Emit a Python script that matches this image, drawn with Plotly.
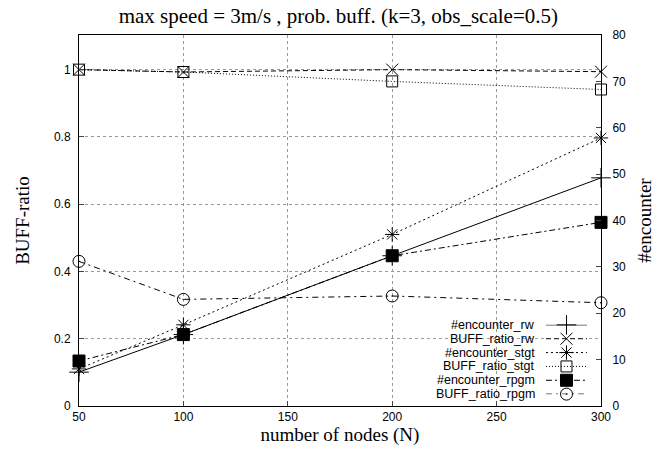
import plotly.graph_objects as go

nodes = [50, 100, 200, 300]
encounter_rw = [7.3, 15.4, 32.4, 49.2]
buff_ratio_rw = [1.0, 0.993, 1.0, 0.994]
encounter_stgt = [8.0, 17.5, 37.0, 57.8]
buff_ratio_stgt = [1.0, 0.993, 0.965, 0.941]
encounter_rpgm = [9.7, 15.4, 32.4, 39.6]
buff_ratio_rpgm = [0.43, 0.317, 0.327, 0.307]

x_ticks = [50, 100, 150, 200, 250, 300]
left_ticks = [0, 0.2, 0.4, 0.6, 0.8, 1]
right_ticks = [0, 10, 20, 30, 40, 50, 60, 70, 80]

series = [
    ("#encounter_rw", encounter_rw, "y2", "solid", "cross-thin-open", 14, "black"),
    ("BUFF_ratio_rw", buff_ratio_rw, "y", "5px,3px", "x-thin-open", 12, "black"),
    ("#encounter_stgt", encounter_stgt, "y2", "2px,3px", "asterisk-open", 12, "black"),
    ("BUFF_ratio_stgt", buff_ratio_stgt, "y", "1px,2px", "square-open", 11, "black"),
    ("#encounter_rpgm", encounter_rpgm, "y2", "6px,3px,2px,3px", "square", 12, "black"),
    ("BUFF_ratio_rpgm", buff_ratio_rpgm, "y", "6px,4px,2px,4px", "circle-open-dot", 12, "black"),
]

SANS = "Liberation Sans, Arial"
SERIF = "Liberation Serif, Times New Roman"

fig = go.Figure()
for name, vals, yax, dash, sym, size, col in series:
    fig.add_trace(go.Scatter(
        x=nodes, y=vals, yaxis=yax, mode="lines+markers", name=name,
        line=dict(color="black", width=1, dash=dash),
        marker=dict(symbol=sym, size=size, color=col, line=dict(color="black", width=1)),
        showlegend=False, cliponaxis=False,
    ))

# custom legend: text on the left (right-aligned), sample line with marker on the right
n_items = len(series)
leg_top, leg_bottom = 0.2187, 0.032
for i, (name, vals, yax, dash, sym, size, col) in enumerate(series):
    yy = -i
    fig.add_trace(go.Scatter(
        x=[0, 1], y=[yy, yy], xaxis="x3", yaxis="y3", mode="lines",
        line=dict(color="black", width=1, dash=dash),
        showlegend=False, hoverinfo="skip", cliponaxis=False,
    ))
    fig.add_trace(go.Scatter(
        x=[0.5], y=[yy], xaxis="x3", yaxis="y3", mode="markers",
        marker=dict(symbol=sym, size=size, color=col, line=dict(color="black", width=1)),
        showlegend=False, hoverinfo="skip", cliponaxis=False,
    ))
    ypaper = leg_top - i * (leg_top - leg_bottom) / (n_items - 1)
    fig.add_annotation(x=0.8774, y=ypaper, xref="paper", yref="paper", text=name,
                       showarrow=False, xanchor="right", yanchor="middle",
                       font=dict(family=SANS, size=12.5, color="black"))

fig.update_layout(
    width=670, height=452,
    margin=dict(l=79, r=69, t=35, b=42),
    paper_bgcolor="white", plot_bgcolor="white",
    title=dict(text="max speed = 3m/s , prob. buff. (k=3, obs_scale=0.5)",
               x=0.505, xanchor="center", y=0.966, yanchor="middle",
               font=dict(family=SERIF, size=21, color="black")),
    xaxis=dict(range=[50, 300], tickvals=x_ticks, ticks="inside", ticklen=5,
               showline=True, mirror=True, linecolor="black", linewidth=1,
               showgrid=True, gridcolor="#999999", griddash="dot", gridwidth=1,
               zeroline=False,
               tickfont=dict(family=SANS, size=12, color="black"),
               title=dict(text="number of nodes (N)", standoff=2,
                          font=dict(family=SERIF, size=19, color="black"))),
    yaxis=dict(range=[0, 1.103], tickvals=left_ticks, ticktext=["0", "0.2", "0.4", "0.6", "0.8", "1"],
               ticks="inside", ticklen=5, ticklabelstandoff=5,
               showline=True, linecolor="black", linewidth=1,
               showgrid=True, gridcolor="#999999", griddash="dot", gridwidth=1,
               zeroline=False,
               tickfont=dict(family=SANS, size=12, color="black"),
               title=dict(text="BUFF-ratio", standoff=19,
                          font=dict(family=SERIF, size=19, color="black"))),
    yaxis2=dict(range=[0, 80], tickvals=right_ticks, overlaying="y", side="right",
                ticks="inside", ticklen=5, ticklabelstandoff=8,
                showline=True, linecolor="black", linewidth=1,
                showgrid=False, zeroline=False,
                tickfont=dict(family=SANS, size=12, color="black"),
                title=dict(text="#encounter", standoff=12,
                           font=dict(family=SERIF, size=19, color="black"))),
    xaxis3=dict(domain=[0.8946, 0.9732], range=[0, 1], visible=False, anchor="y3"),
    yaxis3=dict(domain=[leg_bottom, leg_top], range=[-(n_items - 1), 0], visible=False, anchor="x3"),
)

fig.write_html("out.html")
